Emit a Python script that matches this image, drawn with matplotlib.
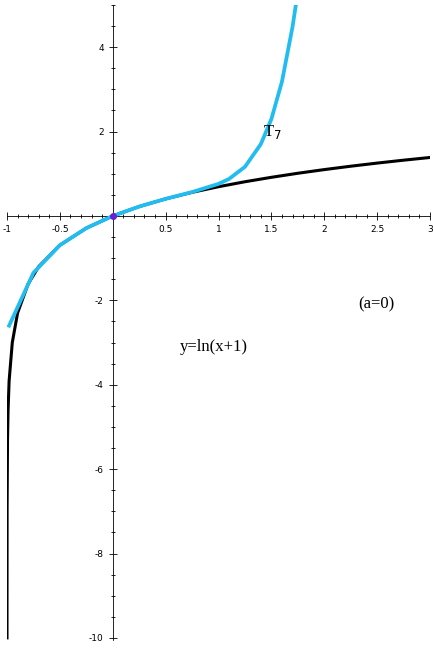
import numpy as np
import matplotlib.pyplot as plt
from matplotlib.ticker import MultipleLocator

# y = ln(x+1)
ln_x = [-0.99995, -0.9999, -0.999, -0.995, -0.99, -0.98, -0.95, -0.9, -0.8, -0.7,
        -0.5, -0.25, 0, 0.25, 0.5, 0.75, 1, 1.25, 1.5, 1.75, 2, 2.25, 2.5, 2.75, 3]
ln_y = [-10.0, -9.21, -6.91, -5.30, -4.61, -3.91, -3.0, -2.30, -1.61, -1.20,
        -0.693, -0.288, 0, 0.223, 0.405, 0.560, 0.693, 0.811, 0.916, 1.012,
        1.099, 1.179, 1.253, 1.322, 1.386]

# Taylor polynomial T7
t7_x = [-0.98, -0.75, -0.5, -0.25, 0, 0.25, 0.5, 0.75, 1, 1.1, 1.25, 1.4, 1.5, 1.6, 1.7, 1.73]
t7_y = [-2.6, -1.347, -0.692, -0.288, 0, 0.223, 0.406, 0.567, 0.760, 0.878, 1.165,
        1.701, 2.296, 3.183, 4.483, 4.977]

fig = plt.figure(figsize=(4.33, 6.5), dpi=100)
sub = fig.add_axes([7/433, 10/650, 423/433, 635/650])

sub.plot(ln_x, ln_y, color='black', lw=2.2, zorder=2)
sub.plot(t7_x, t7_y, color='#22bdf0', lw=2.7, zorder=3)
sub.plot([0], [0], 'o', color='#6a1fd0', ms=4, zorder=4)

sub.set_xlim(-1, 3)
sub.set_ylim(-10.05, 5.0)
for s in ['top', 'right']:
    sub.spines[s].set_visible(False)
sub.spines['left'].set_position(('data', 0))
sub.spines['bottom'].set_position(('data', 0))
sub.spines['left'].set_linewidth(0.6)
sub.spines['bottom'].set_linewidth(0.6)

sub.xaxis.set_major_locator(MultipleLocator(0.5))
sub.xaxis.set_minor_locator(MultipleLocator(0.1))
sub.yaxis.set_major_locator(MultipleLocator(2))
sub.yaxis.set_minor_locator(MultipleLocator(0.5))
sub.tick_params(which='both', direction='inout', labelsize=6.5, width=0.6)
sub.tick_params(which='major', length=6)
sub.tick_params(which='minor', length=3)

xt = [-1, -0.5, 0.5, 1, 1.5, 2, 2.5, 3]
sub.set_xticks(xt)
sub.set_xticklabels(['-1', '-0.5', '0.5', '1', '1.5', '2', '2.5', '3'])
yt = [-10, -8, -6, -4, -2, 2, 4]
sub.set_yticks(yt)
sub.set_yticklabels([str(v) for v in yt])

sub.text(1.42, 1.9, r'T$_7$', fontsize=12, family='Liberation Serif')
sub.text(2.32, -2.2, '(a=0)', fontsize=12, family='Liberation Serif')
sub.text(0.63, -3.2, 'y=ln(x+1)', fontsize=12, family='Liberation Serif')

fig.savefig('out.png', dpi=100)
